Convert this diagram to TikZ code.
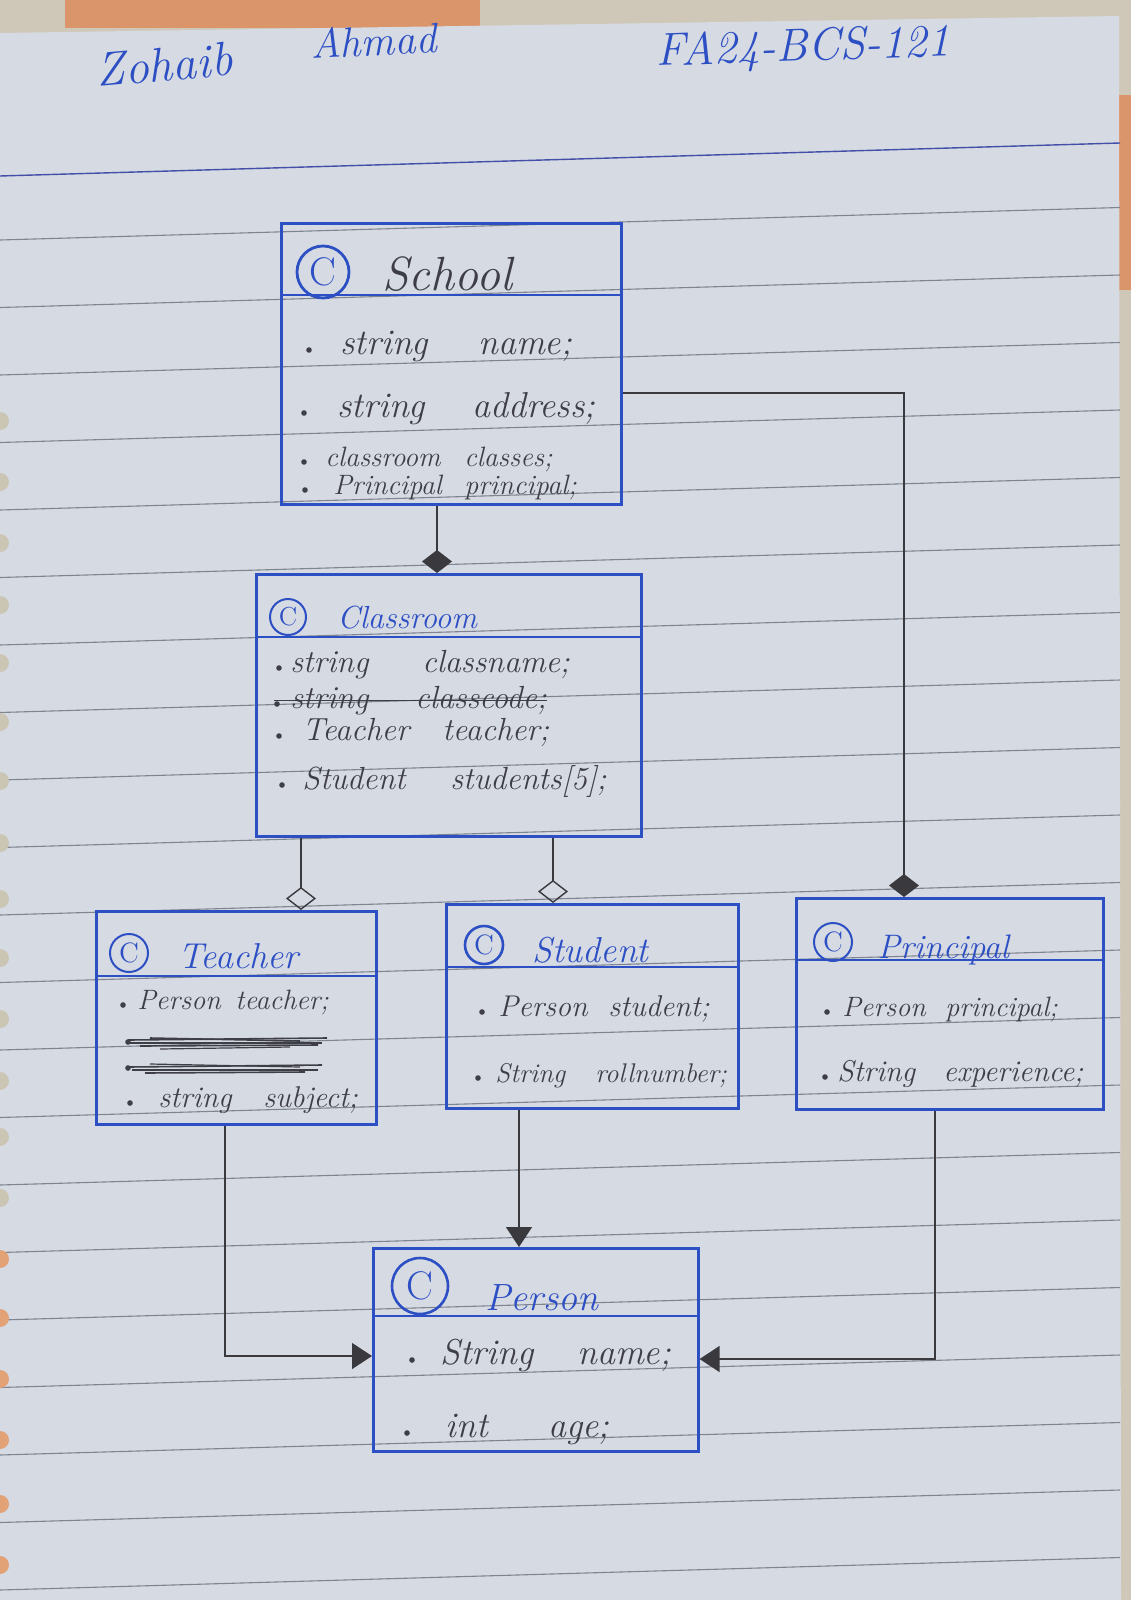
\documentclass[tikz,border=0pt]{standalone}
\usetikzlibrary{arrows.meta}
\definecolor{paper}{HTML}{D6DAE3}
\definecolor{beige}{HTML}{CFC8B8}
\definecolor{tape}{HTML}{DB956B}
\definecolor{rulec}{HTML}{7E8490}
\definecolor{margin}{HTML}{4450A8}
\definecolor{penblue}{HTML}{2D4FC4}
\definecolor{ink}{HTML}{3E3E46}
\definecolor{lead}{HTML}{3A3A3E}
\definecolor{holea}{HTML}{CBC6B4}
\definecolor{holeb}{HTML}{E2A276}
\tikzset{
  umlbox/.style={draw=penblue, line width=1.3pt, rectangle, inner sep=0pt, anchor=north west},
  divider/.style={draw=penblue, line width=1.3pt},
  ctitle/.style={anchor=base west, inner sep=0pt, text=penblue},
  crow/.style={anchor=mid west, inner sep=0pt, text=ink},
  cicon/.style={circle, draw=penblue, text=penblue, inner sep=0pt, line width=1pt},
  conn/.style={draw=lead, line width=0.7pt},
  fdia/.style={-{Diamond[fill=lead, length=11.5pt, width=15pt]}},
  odia/.style={-{Diamond[open, length=11.5pt, width=15pt]}},
  tri/.style={-{Triangle[fill=lead, length=10pt, width=13pt]}},
  rulel/.style={draw=rulec, line width=0.55pt},
  scrib/.style={draw=ink, line width=0.8pt},
}
\newcommand\umlrow[8]{%
  \fill[ink] (#2,#5) circle (1.4pt);
  \node[crow, font={\fontsize{#6}{#6}\selectfont\itshape}] (#1) at (#3,#5)
    {\makebox[\dimexpr #4pt/2-#3pt/2\relax][l]{#7}#8};%
}
\begin{document}
\begin{tikzpicture}[x=0.5pt, y=-0.5pt]
\useasboundingbox (0,0) rectangle (1131,1600);
% --- photo background ---
\fill[beige] (0,0) rectangle (1131,1600);
\fill[tape] (65,0) rectangle (480,28);
\fill[tape] (1119,95) rectangle (1131,290);
\fill[paper] (0,33) -- (1119,16) -- (1121,1600) -- (0,1600) -- cycle;
\foreach \k in {0,...,20}{
  \draw[rulel] (0,{240+67.5*\k}) -- (1120,{240+67.5*\k-32.5});
}
\draw[draw=margin, line width=0.7pt] (0,176) -- (1120,143);
\foreach \yy in {421,482,543,605,663,722,781,843,899,958,1019,1081,1137,1198}{
  \fill[holea] (0,\yy) circle (4.5pt);
}
\foreach \yy in {1259,1318,1379,1440,1504,1565}{
  \fill[holeb] (0,\yy) circle (4.5pt);
}
% --- header texts ---
\node[ctitle, rotate=5, font={\fontsize{24}{24}\selectfont\itshape}] (hname) at (97,87) {Zohaib};
\node[ctitle, rotate=3, font={\fontsize{21}{21}\selectfont\itshape}] (hsur) at (311,59) {Ahmad};
\node[ctitle, rotate=2, font={\fontsize{23}{23}\selectfont\itshape}] (hreg) at (656,66) {FA24-BCS-121};
% --- class boxes ---
\node[umlbox, minimum width=170pt, minimum height=140.5pt] (school) at (280,222) {};
\node[umlbox, minimum width=192.5pt, minimum height=131pt] (classroom) at (255,573) {};
\node[umlbox, minimum width=140pt, minimum height=106.5pt] (teacher) at (95,910) {};
\node[umlbox, minimum width=146pt, minimum height=102pt] (student) at (445,903) {};
\node[umlbox, minimum width=153.5pt, minimum height=105.5pt] (principal) at (795,897) {};
\node[umlbox, minimum width=162.5pt, minimum height=101.5pt] (person) at (372,1247) {};
\draw[divider] ([yshift=-36.5pt]school.north west) -- ([yshift=-36.5pt]school.north east);
\draw[divider] ([yshift=-32pt]classroom.north west) -- ([yshift=-32pt]classroom.north east);
\draw[divider] ([yshift=-33pt]teacher.north west) -- ([yshift=-33pt]teacher.north east);
\draw[divider] ([yshift=-32pt]student.north west) -- ([yshift=-32pt]student.north east);
\draw[divider] ([yshift=-31.5pt]principal.north west) -- ([yshift=-31.5pt]principal.north east);
\draw[divider] ([yshift=-34.5pt]person.north west) -- ([yshift=-34.5pt]person.north east);
% --- class icons and titles ---
\node[cicon, line width=1.4pt, minimum size=26pt, font={\fontsize{20}{20}\selectfont}] (schoolc) at (323,272) {C};
\node[ctitle, text=ink, font={\fontsize{24}{24}\selectfont\itshape}] (schoolt) at (382,290) {School};
\node[cicon, minimum size=18pt, font={\fontsize{13}{13}\selectfont}] (classroomc) at (288,617) {C};
\node[ctitle, font={\fontsize{16}{16}\selectfont\itshape}] (classroomt) at (337,628) {Classroom};
\node[cicon, minimum size=19pt, font={\fontsize{14}{14}\selectfont}] (teacherc) at (129,953) {C};
\node[ctitle, font={\fontsize{18}{18}\selectfont\itshape}] (teachert) at (178,968) {Teacher};
\node[cicon, line width=1.3pt, minimum size=19pt, font={\fontsize{14}{14}\selectfont}] (studentc) at (484,945) {C};
\node[ctitle, font={\fontsize{18}{18}\selectfont\itshape}] (studentt) at (532,962) {Student};
\node[cicon, minimum size=19pt, font={\fontsize{14}{14}\selectfont}] (principalc) at (833,942) {C};
\node[ctitle, font={\fontsize{17}{17}\selectfont\itshape}] (principalt) at (877,958) {Principal};
\node[cicon, line width=1.3pt, minimum size=28pt, font={\fontsize{20}{20}\selectfont}] (personc) at (420,1286) {C};
\node[ctitle, font={\fontsize{19}{19}\selectfont\itshape}] (persont) at (485,1310) {Person};
% --- attributes ---
\umlrow{s1}{309}{340}{478}{350}{18}{string}{name;}
\umlrow{s2}{304}{337}{472}{413}{18}{string}{address;}
\umlrow{s3}{304}{325}{464}{462}{14}{classroom}{classes;}
\umlrow{s4}{305}{333}{464}{490}{14}{Principal}{principal;}
\umlrow{c1}{279}{290}{422}{668}{16}{string}{classname;}
\umlrow{c2}{277}{290}{415}{704}{16}{string}{classcode;}
\draw[scrib, line width=0.7pt] (c2.west) ++(-16,0) -- (c2.east);
\umlrow{c3}{279}{302}{442}{736}{16}{Teacher}{teacher;}
\umlrow{c4}{282}{302}{450}{785}{16}{Student}{students[5];}
\umlrow{t1}{123}{137}{235}{1005}{14}{Person}{teacher;}
\umlrow{t4}{130}{158}{263}{1103}{15}{string}{subject;}
\umlrow{st1}{482}{498}{608}{1012}{15}{Person}{student;}
\umlrow{st2}{478}{495}{595}{1078}{13.5}{String}{rollnumber;}
\umlrow{p1}{827}{842}{945}{1012}{14}{Person}{principal;}
\umlrow{p2}{825}{837}{943}{1077}{15}{String}{experience;}
\umlrow{pe1}{412}{440}{577}{1360}{18}{String}{name;}
\umlrow{pe2}{407}{445}{548}{1433}{18}{int}{age;}
% --- scribbled-out rows in Teacher ---
\fill[ink] (128,1042) circle (1.4pt);
\draw[scrib] (128,1040) -- (327,1038);
\draw[scrib] (130,1043) -- (322,1043);
\draw[scrib] (140,1046) -- (318,1045);
\draw[scrib] (150,1038) -- (300,1041);
\draw[scrib, line width=0.6pt] (160,1049) -- (290,1047);
\fill[ink] (128,1068) circle (1.4pt);
\draw[scrib] (128,1067) -- (322,1065);
\draw[scrib] (132,1070) -- (318,1070);
\draw[scrib] (145,1073) -- (305,1072);
\draw[scrib, line width=0.6pt] (150,1064) -- (300,1067);
% --- connectors ---
\coordinate (xa) at (437,0);
\coordinate (xb) at (301,0);
\coordinate (xc) at (553,0);
\coordinate (xd) at (904,0);
\coordinate (ya) at (0,393);
\coordinate (xe) at (519,0);
\coordinate (xf) at (225,0);
\coordinate (yf) at (0,1356);
\coordinate (xg) at (935,0);
\coordinate (yg) at (0,1359);
\draw[conn, fdia] (school.south -| xa) -- (classroom.north -| xa);
\draw[conn, odia] (classroom.south -| xb) -- (teacher.north -| xb);
\draw[conn, odia] (classroom.south -| xc) -- (student.north -| xc);
\draw[conn, fdia] (school.east |- ya) -| (principal.north -| xd);
\draw[conn, tri] (student.south -| xe) -- (person.north -| xe);
\draw[conn, tri] (teacher.south -| xf) |- (person.west |- yf);
\draw[conn, tri] (principal.south -| xg) |- (person.east |- yg);
\end{tikzpicture}
\end{document}
